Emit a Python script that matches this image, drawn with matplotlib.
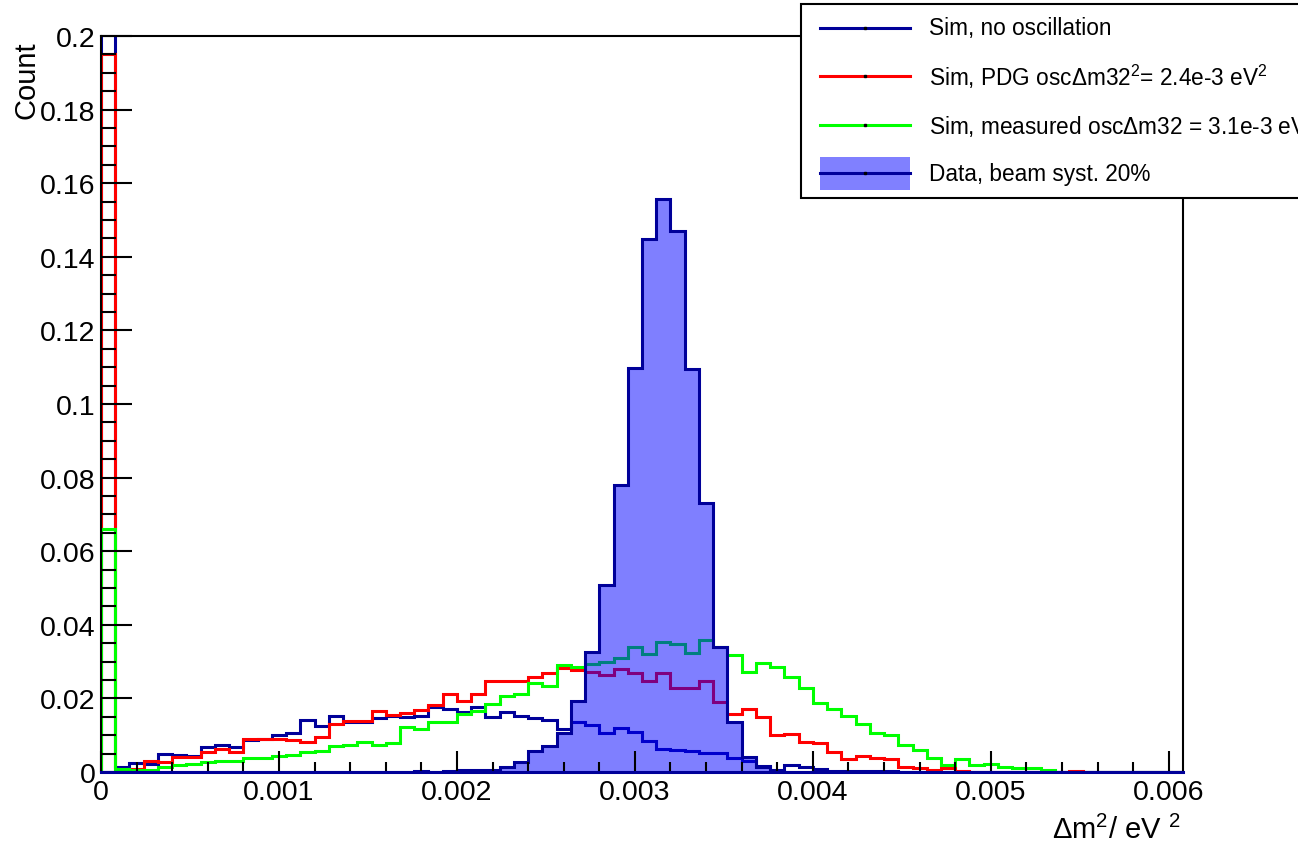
import numpy as np
import matplotlib
matplotlib.use("Agg")
import matplotlib.pyplot as plt
from matplotlib.lines import Line2D
from matplotlib.patches import Rectangle
from matplotlib.ticker import MultipleLocator

plt.rcParams['font.family'] = ['Liberation Sans', 'DejaVu Sans']
plt.rcParams['mathtext.default'] = 'regular'

# histogram binning: 76 bins from 0 to 0.00608 eV^2
nbins = 76
xmax = 0.00608

no_osc = [0.21, 0.0013, 0.0024, 0.0022, 0.0049, 0.0046, 0.0043, 0.0067, 0.0074, 0.0067,
          0.0088, 0.0090, 0.0101, 0.0106, 0.0140, 0.0126, 0.0153, 0.0137, 0.0137, 0.0146,
          0.0151, 0.0150, 0.0152, 0.0176, 0.0171, 0.0164, 0.0176, 0.0149, 0.0164, 0.0153,
          0.0146, 0.0141, 0.0117, 0.0135, 0.0129, 0.0106, 0.0119, 0.0110, 0.0085, 0.0063,
          0.0060, 0.0058, 0.0051, 0.0051, 0.0038, 0.0030, 0.0016, 0.0005, 0.0018, 0.0013,
          0.0008, 0.0004, 0.0003, 0.0003, 0.0002, 0.0002] + [0.0] * 20

pdg_osc = [0.195, 0.0008, 0.0008, 0.0031, 0.0026, 0.0040, 0.0042, 0.0055, 0.0063, 0.0055,
           0.0090, 0.0090, 0.0090, 0.0087, 0.0082, 0.0094, 0.0130, 0.0138, 0.0138, 0.0165,
           0.0155, 0.0160, 0.0169, 0.0182, 0.0212, 0.0192, 0.0212, 0.0246, 0.0246, 0.0246,
           0.0257, 0.0268, 0.0282, 0.0277, 0.0271, 0.0264, 0.0279, 0.0268, 0.0248, 0.0269,
           0.0227, 0.0228, 0.0246, 0.0191, 0.0158, 0.0172, 0.0149, 0.0100, 0.0103, 0.0081,
           0.0079, 0.0054, 0.0035, 0.0044, 0.0037, 0.0035, 0.0013, 0.0011, 0.0006, 0.0010,
           0.0003, 0.0, 0.0, 0.0, 0.0, 0.0, 0.0, 0.0, 0.0003, 0.0] + [0.0] * 6

meas_osc = [0.066, 0.0008, 0.0006, 0.0005, 0.0013, 0.0019, 0.0022, 0.0026, 0.0031, 0.0029,
            0.0038, 0.0038, 0.0043, 0.0046, 0.0055, 0.0058, 0.0070, 0.0073, 0.0082, 0.0073,
            0.0078, 0.0121, 0.0117, 0.0135, 0.0135, 0.0158, 0.0167, 0.0185, 0.0207, 0.0212,
            0.0241, 0.0235, 0.0291, 0.0286, 0.0293, 0.0298, 0.0310, 0.0340, 0.0322, 0.0352,
            0.0348, 0.0323, 0.0359, 0.0339, 0.0318, 0.0272, 0.0297, 0.0285, 0.0257, 0.0228,
            0.0187, 0.0171, 0.0153, 0.0130, 0.0105, 0.0101, 0.0074, 0.0060, 0.0037, 0.0020,
            0.0034, 0.0020, 0.0021, 0.0014, 0.0011, 0.0010, 0.0006] + [0.0] * 9

data = ([0.0] * 22 +
        [0.0003, 0.0, 0.0002, 0.0005, 0.0005, 0.0006, 0.0013, 0.0026,
         0.0058, 0.0070, 0.0106, 0.0192, 0.0326, 0.0509, 0.0780, 0.1097, 0.1449, 0.1556,
         0.1471, 0.1095, 0.0730, 0.0340, 0.0135, 0.0042, 0.0014, 0.0004] +
        [0.0] * 28)

legend_labels = ["Sim, no oscillation",
                 "Sim, PDG oscΔm32$^{2}$= 2.4e-3 eV$^{2}$",
                 "Sim, measured oscΔm32 = 3.1e-3 eV$^{2}$",
                 "Data, beam syst. 20%"]

xtick_vals = [0, 0.001, 0.002, 0.003, 0.004, 0.005, 0.006]
xtick_labels = ["0", "0.001", "0.002", "0.003", "0.004", "0.005", "0.006"]
ytick_vals = [0, 0.02, 0.04, 0.06, 0.08, 0.10, 0.12, 0.14, 0.16, 0.18, 0.20]
ytick_labels = ["0", "0.02", "0.04", "0.06", "0.08", "0.1", "0.12", "0.14", "0.16", "0.18", "0.2"]

dark_blue = '#000099'
W, H = 1298, 845

fig = plt.figure(figsize=(W / 100, H / 100), dpi=100)
ax = fig.add_axes([101 / W, 1 - 773 / H, (1183 - 101) / W, (773 - 37) / H])

edges = np.linspace(0, xmax, nbins + 1)
lw = 2.2
ax.stairs(no_osc, edges, color=dark_blue, lw=lw)
ax.stairs(pdg_osc, edges, color='#ff0000', lw=lw)
ax.stairs(meas_osc, edges, color='#00ff00', lw=lw)
ax.stairs(data, edges, fill=True, facecolor=(0, 0, 1, 0.5), edgecolor='none')
ax.stairs(data, edges, color=dark_blue, lw=lw)

ax.set_xlim(0, xmax)
ax.set_ylim(0, 0.2)

ax.set_xticks(xtick_vals)
ax.set_xticklabels(xtick_labels)
ax.set_yticks(ytick_vals)
ax.set_yticklabels(ytick_labels)
ax.xaxis.set_minor_locator(MultipleLocator(0.0002))
ax.yaxis.set_minor_locator(MultipleLocator(0.005))

ax.tick_params(axis='both', which='both', direction='in', top=False, right=False,
               width=1.5, labelsize=20.5)
ax.tick_params(axis='x', which='major', length=15, pad=5)
ax.tick_params(axis='x', which='minor', length=7.5)
ax.tick_params(axis='y', which='major', length=22, pad=4)
ax.tick_params(axis='y', which='minor', length=11)
for sp in ax.spines.values():
    sp.set_linewidth(1.5)
# empty bins sit on the baseline, so the bottom edge shows the histogram colour
ax.spines['bottom'].set_color(dark_blue)
ax.spines['bottom'].set_linewidth(2.2)

fig.text(26 / W, 1 - 41 / H, "Count", rotation=90, ha='center', va='top', fontsize=21)
fig.text(1181 / W, 1 - 839 / H, "Δm$^{2}$/ eV $^{2}$", ha='right', va='baseline',
         fontsize=21)

# legend box, hanging over the top right corner of the frame
box = Rectangle((801 / W, 1 - 199 / H), 600 / W, 194 / H, transform=fig.transFigure,
                facecolor='white', edgecolor='black', lw=1.5, zorder=10)
fig.add_artist(box)
entry_y = [29, 77, 126, 174]
entry_colors = [dark_blue, '#ff0000', '#00ff00', dark_blue]
for i, (yy, col, lab) in enumerate(zip(entry_y, entry_colors, legend_labels)):
    yf = 1 - yy / H
    if i == 3:
        fig.add_artist(Rectangle((820 / W, 1 - 191 / H), 90 / W, 33 / H,
                                 transform=fig.transFigure, facecolor=(0.5, 0.5, 1.0),
                                 edgecolor='none', zorder=11))
    fig.add_artist(Line2D([820 / W, 910 / W], [yf, yf], transform=fig.transFigure,
                          color=col, lw=lw, zorder=12))
    fig.add_artist(Line2D([865 / W], [yf], transform=fig.transFigure, marker='s',
                          markersize=1.5, color='black', zorder=13))
    fig.text(929 / W, yf, lab, ha='left', va='center', fontsize=16.3, zorder=13)

fig.savefig("out.png", dpi=100)
